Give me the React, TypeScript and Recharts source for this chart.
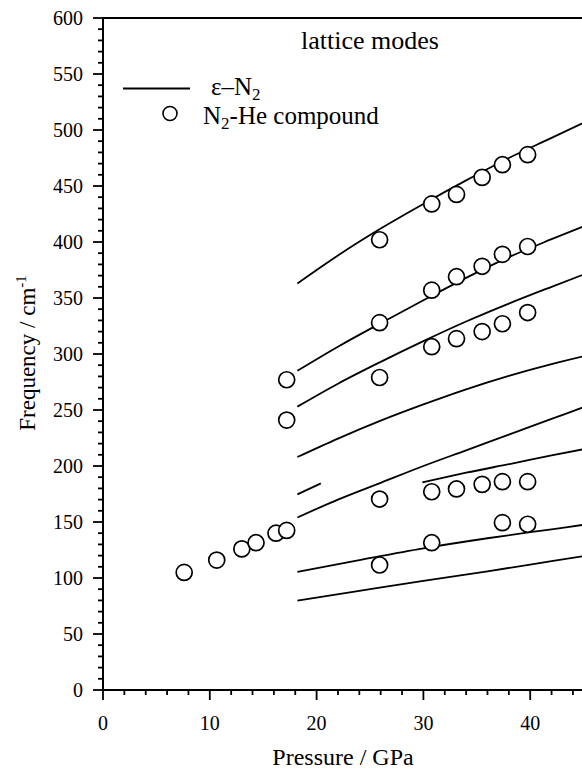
import React from 'react';
import { ComposedChart, Line, Scatter, XAxis, YAxis, ReferenceLine, Customized } from 'recharts';

const FONT = '"Liberation Serif", "Times New Roman", serif';

// Tick values
const xTicks = [0, 2, 4, 6, 8, 10, 12, 14, 16, 18, 20, 22, 24, 26, 28, 30, 32, 34, 36, 38, 40, 42, 44];
const xMajor = [0, 10, 20, 30, 40];
const yTicks = [
  0, 10, 20, 30, 40, 50, 60, 70, 80, 90, 100, 110, 120, 130, 140, 150, 160, 170, 180, 190,
  200, 210, 220, 230, 240, 250, 260, 270, 280, 290, 300, 310, 320, 330, 340, 350, 360, 370,
  380, 390, 400, 410, 420, 430, 440, 450, 460, 470, 480, 490, 500, 510, 520, 530, 540, 550,
  560, 570, 580, 590, 600,
];
const yMajor = [0, 50, 100, 150, 200, 250, 300, 350, 400, 450, 500, 550, 600];

// ε-N2 calculated branches (pressure GPa, frequency cm-1)
const branch1 = [
  { p: 18.2, f: 363 }, { p: 22, f: 388 }, { p: 26, f: 412 }, { p: 30, f: 434 },
  { p: 34, f: 455 }, { p: 38, f: 475 }, { p: 42, f: 493 }, { p: 45, f: 506.5 },
];
const branch2 = [
  { p: 18.2, f: 285 }, { p: 22, f: 306.5 }, { p: 26, f: 327.5 }, { p: 30, f: 348 },
  { p: 34, f: 368 }, { p: 38, f: 386.5 }, { p: 42, f: 402.5 }, { p: 45, f: 414 },
];
const branch3 = [
  { p: 18.2, f: 253 }, { p: 22, f: 273.5 }, { p: 26, f: 293 }, { p: 30, f: 311.5 },
  { p: 34, f: 329 }, { p: 38, f: 345 }, { p: 42, f: 360 }, { p: 45, f: 371 },
];
const branch4 = [
  { p: 18.2, f: 208 }, { p: 22, f: 224.5 }, { p: 26, f: 240.5 }, { p: 30, f: 255 },
  { p: 34, f: 268.5 }, { p: 38, f: 280.5 }, { p: 42, f: 291 }, { p: 45, f: 298 },
];
const branch5 = [{ p: 18.2, f: 174.7 }, { p: 20.4, f: 184.5 }];
const branch6 = [
  { p: 18.2, f: 154 }, { p: 22, f: 170 }, { p: 26, f: 185 }, { p: 30, f: 200 },
  { p: 34, f: 214 }, { p: 38, f: 228 }, { p: 42, f: 242 }, { p: 45, f: 252.5 },
];
const branch7 = [
  { p: 29.9, f: 185.4 }, { p: 34, f: 194 }, { p: 38.4, f: 202.4 }, { p: 42, f: 209.5 }, { p: 45, f: 215 },
];
const branch8 = [
  { p: 18.2, f: 105.5 }, { p: 24, f: 116 }, { p: 30, f: 126.5 }, { p: 36, f: 135.5 },
  { p: 42, f: 143.5 }, { p: 45, f: 147.5 },
];
const branch9 = [
  { p: 18.2, f: 79.7 }, { p: 24, f: 88.5 }, { p: 30, f: 97.5 }, { p: 36, f: 106 },
  { p: 42, f: 115 }, { p: 45, f: 119.5 },
];
const epsBranches = [branch1, branch2, branch3, branch4, branch5, branch6, branch7, branch8, branch9];

// N2-He compound measured points
const compoundPressure = [
  7.6, 10.65, 13.0, 14.33, 16.2, 17.2, 17.2, 17.2,
  25.9, 25.9, 25.9, 25.9, 25.9,
  30.78, 33.1, 35.5, 37.4, 39.76,
  30.78, 33.1, 35.5, 37.4, 39.76,
  30.78, 33.1, 35.5, 37.4, 39.76,
  30.78, 33.1, 35.5, 37.4, 39.76,
  37.4, 39.76, 30.78,
];
const compoundFreq = [
  105, 116, 126, 131.5, 140, 142.5, 241, 277,
  279, 170.5, 111.6, 402, 328,
  434, 442.5, 457.7, 469, 478,
  357, 369, 378.3, 389, 396,
  306.5, 313.7, 320, 327, 337,
  177, 179.5, 183.6, 186, 186,
  149.4, 148, 131.5,
];
const compound = compoundPressure.map((p, i) => ({ p, f: compoundFreq[i] }));

const textStyle = { fontFamily: FONT };

const XTick = (props: any) => {
  const { x, y, payload } = props;
  const major = xMajor.includes(payload.value);
  return (
    <g>
      <line x1={x} x2={x} y1={y} y2={y + (major ? 10 : 5)} stroke="#000" strokeWidth={1.8} />
      {major && (
        <text x={x} y={y + 40} textAnchor="middle" fontSize={20} style={textStyle} fill="#000">
          {payload.value}
        </text>
      )}
    </g>
  );
};

const YTick = (props: any) => {
  const { x, y, payload } = props;
  const major = yMajor.includes(payload.value);
  return (
    <g>
      <line x1={x - (major ? 10 : 5)} x2={x} y1={y} y2={y} stroke="#000" strokeWidth={1.8} />
      {major && (
        <text x={x - 20} y={y + 7} textAnchor="end" fontSize={20} style={textStyle} fill="#000">
          {payload.value}
        </text>
      )}
    </g>
  );
};

const Circle = (props: any) => (
  <circle cx={props.cx} cy={props.cy} r={8} fill="#fff" stroke="#000" strokeWidth={1.7} />
);

const Decorations = () => (
  <g style={textStyle} fill="#000">
    <text x={301} y={49} fontSize={26} style={textStyle}>lattice modes</text>
    <line x1={123} x2={190} y1={88.5} y2={88.5} stroke="#000" strokeWidth={1.8} />
    <text x={211} y={95} fontSize={25} style={textStyle}>
      ε–N<tspan fontSize={17} dy={5}>2</tspan>
    </text>
    <circle cx={170} cy={113.5} r={7} fill="#fff" stroke="#000" strokeWidth={1.6} />
    <text x={203} y={123.5} fontSize={25} style={textStyle}>
      N<tspan fontSize={17} dy={5}>2</tspan>
      <tspan dy={-5}>-He compound</tspan>
    </text>
    <text x={343} y={765} fontSize={24} textAnchor="middle" style={textStyle}>Pressure / GPa</text>
    <text transform="translate(35,353) rotate(-90)" fontSize={23} textAnchor="middle" style={textStyle}>
      Frequency / cm<tspan fontSize={15} dy={-9}>-1</tspan>
    </text>
  </g>
);

export default function App() {
  return (
    <div style={{ position: 'absolute', left: 0, top: 0, background: '#fff', fontFamily: FONT }}>
      <ComposedChart width={582} height={770} margin={{ top: 18, right: 0, bottom: 30, left: 0 }}>
        <XAxis
          type="number"
          dataKey="p"
          domain={[0, 44.85]}
          allowDataOverflow
          ticks={xTicks}
          interval={0}
          tick={<XTick />}
          tickLine={false}
          tickSize={0}
          tickMargin={0}
          height={50}
          axisLine={{ stroke: '#000', strokeWidth: 2 }}
        />
        <YAxis
          type="number"
          dataKey="f"
          domain={[0, 600]}
          allowDataOverflow
          ticks={yTicks}
          interval={0}
          tick={<YTick />}
          tickLine={false}
          tickSize={0}
          tickMargin={0}
          width={103}
          axisLine={{ stroke: '#000', strokeWidth: 2 }}
        />
        <ReferenceLine y={600} stroke="#000" strokeWidth={2} />
        {epsBranches.map((b, i) => (
          <Line
            key={i}
            data={b}
            dataKey="f"
            type="monotone"
            stroke="#000"
            strokeWidth={1.8}
            dot={false}
            activeDot={false}
            isAnimationActive={false}
          />
        ))}
        <Scatter data={compound} dataKey="f" shape={<Circle />} isAnimationActive={false} />
        <Customized component={<Decorations />} />
      </ComposedChart>
    </div>
  );
}
